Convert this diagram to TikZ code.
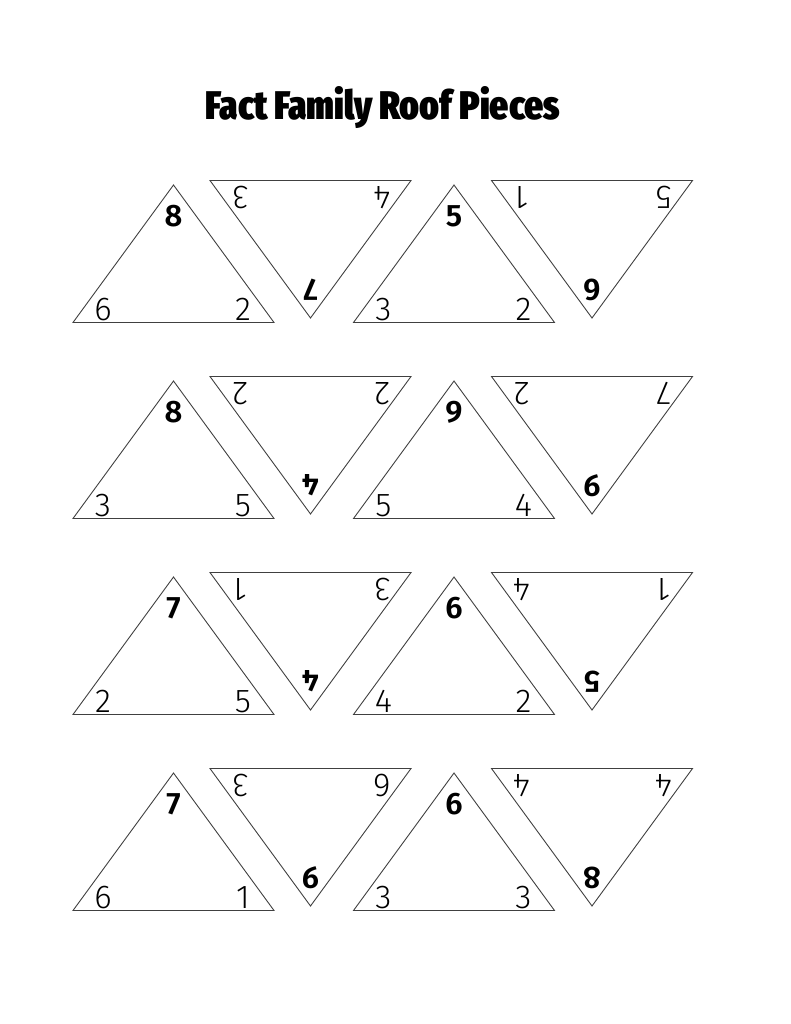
\documentclass[tikz,border=0pt]{standalone}
\usepackage{fontspec}
\setmainfont{Fira Sans}
\newfontfamily\thinfont{Fira Sans Light}
\newfontfamily\midfont{Fira Sans SemiBold}
\newfontfamily\titlefont{Fira Sans Extra Condensed Black}
\usetikzlibrary{positioning}

\begin{document}
\begin{tikzpicture}[x=1pt, y=-1pt,
    roof/.style={draw=black!75, line width=0.9pt},
    small/.style={font=\thinfont\fontsize{33}{33}\selectfont, inner sep=0pt},
    big/.style={font=\midfont\fontsize{31}{31}\selectfont, inner sep=0pt}]
    \useasboundingbox (0,0) rectangle (791,1024);
    \node[font=\titlefont\fontsize{40}{40}\selectfont] (title) at (383,108) {Fact Family Roof Pieces};
    % upright pieces: row/col/left x/top/bottom left/bottom right
    \foreach \r/\c/\xu/\t/\bl/\br in {0/a/73/8/6/2, 0/b/353.5/5/3/2, 1/a/73/8/3/5, 1/b/353.5/9/5/4,
        2/a/73/7/2/5, 2/b/353.5/6/4/2, 3/a/73/7/6/1, 3/b/353.5/6/3/3} {
        \pgfmathsetmacro\ya{185+196*\r}
        \pgfmathsetmacro\yb{\ya+137.5}
        \draw[roof] (\xu,\yb) -- (\xu+100.5,\ya) -- (\xu+201,\yb) -- cycle;
        \node[big] (up-\r\c-t) at (\xu+100.5,\ya+31) {\t};
        \node[small] (up-\r\c-l) at (\xu+30,\yb-13) {\bl};
        \node[small] (up-\r\c-r) at (\xu+170,\yb-13) {\br};
    }
    % upside down pieces: row/col/left x/top left/top right/bottom
    \foreach \r/\c/\xi/\tl/\tr/\b in {0/a/210/3/4/7, 0/b/491.5/1/5/6, 1/a/210/2/2/4, 1/b/491.5/2/7/9,
        2/a/210/1/3/4, 2/b/491.5/4/1/5, 3/a/210/3/6/9, 3/b/491.5/4/4/8} {
        \pgfmathsetmacro\yt{180.5+196*\r}
        \draw[roof] (\xi,\yt) -- (\xi+201,\yt) -- (\xi+100.5,\yt+137.5) -- cycle;
        \node[small, rotate=180] (dn-\r\c-l) at (\xi+30,\yt+17) {\tl};
        \node[small, rotate=180] (dn-\r\c-r) at (\xi+172,\yt+17) {\tr};
        \node[big, rotate=180] (dn-\r\c-b) at (\xi+100.5,\yt+109) {\b};
    }
\end{tikzpicture}
\end{document}
